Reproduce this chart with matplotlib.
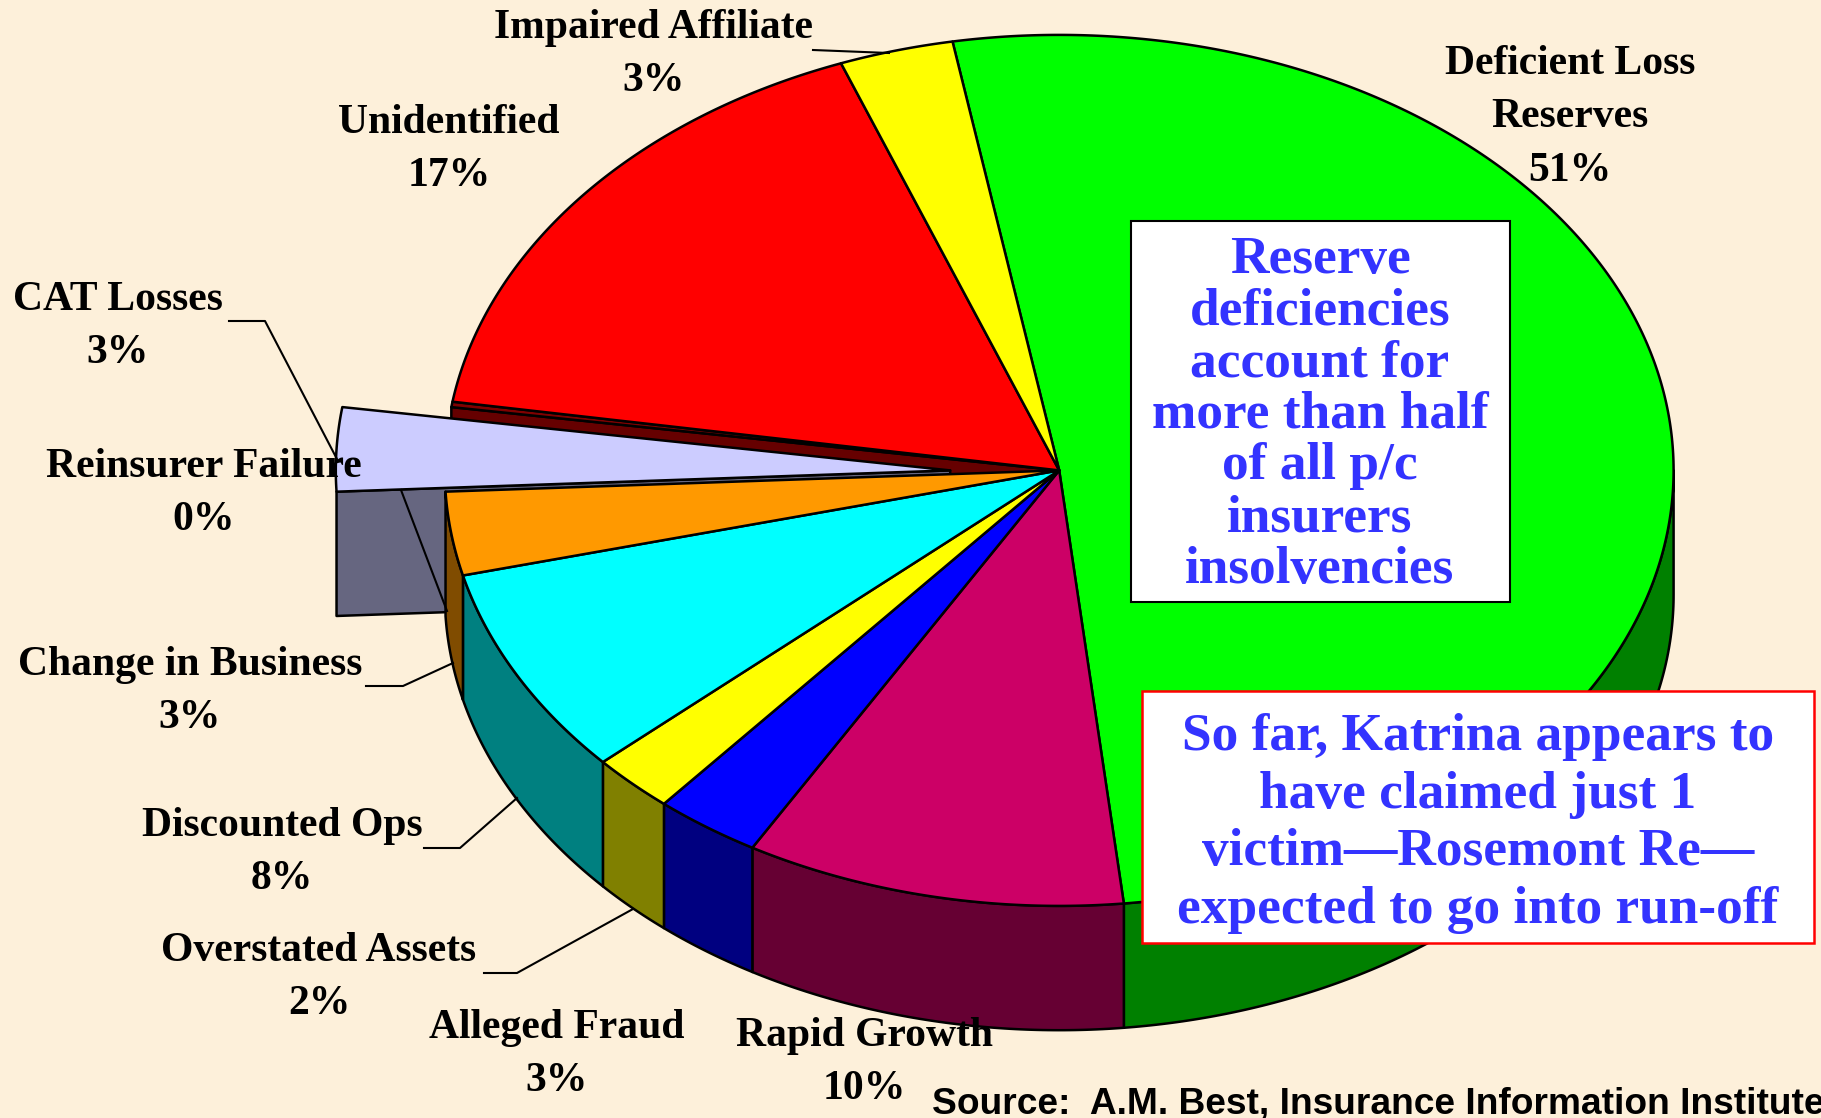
import numpy as np
import matplotlib
matplotlib.use("Agg")
import matplotlib.pyplot as plt
from matplotlib.patches import Polygon, Rectangle

# clockwise from the green slice
categories = ["Deficient Loss\nReserves", "Rapid Growth", "Alleged Fraud", "Overstated Assets",
              "Discounted Ops", "Change in Business", "CAT Losses", "Reinsurer Failure",
              "Unidentified", "Impaired Affiliate"]
values = [51.1, 10.0, 2.8, 2.2, 7.8, 3.1, 3.1, 0.2, 16.7, 3.0]
top_colors = ["#00ff00", "#cc0066", "#0000ff", "#ffff00", "#00ffff", "#ff9900", "#ccccff", "#800000", "#ff0000", "#ffff00"]
side_colors = ["#008000", "#660033", "#000080", "#808000", "#008080", "#804c00", "#666680", "#660000", "#800000", "#808000"]

label_x = [1570, 864, 557, 319, 282, 190, 118, 204, 449, 654]
label_y = [64, 1036, 1028, 951, 826, 665, 300, 467, 123, 28]

box1_lines = ["Reserve", "deficiencies", "account for", "more than half", "of all p/c", "insurers", "insolvencies"]
box2_lines = ["So far, Katrina appears to", "have claimed just 1", "victim\u2014Rosemont Re\u2014", "expected to go into run-off"]
source_text = "Source:  A.M. Best, Insurance Information Institute"

W, H = 1821, 1118
cx, cy = 1059.2, 470.4
rx, ry = 614.4, 435.5
depth = 124.3
explode = 109
start_angle = -10
serif = "Liberation Serif"
lw = 1.8

fig = plt.figure(figsize=(W / 100, H / 100), dpi=100, facecolor="#fdf0da")
ax = fig.add_axes([0, 0, 1, 1])
ax.set_xlim(0, W)
ax.set_ylim(H, 0)
ax.axis("off")


def arc(t0, t1, x0=cx, y0=cy):
    t = np.radians(np.linspace(t0, t1, max(int(abs(t1 - t0)) * 2, 2)))
    return np.column_stack([x0 + rx * np.sin(t), y0 - ry * np.cos(t)])


def poly(pts, color, z):
    ax.add_patch(Polygon(pts, closed=True, facecolor=color, edgecolor="black", lw=lw, joinstyle="round", zorder=z))


angles = start_angle + np.concatenate([[0], np.cumsum(values)]) * 3.6
drop = np.array([0, depth])

# walls exposed by the pulled-out slice
t_cat0, t_cat1 = angles[6], angles[7]
t_re0, t_re1 = angles[7], angles[8]
out_re = arc(t_re0, t_re0)[0]
poly([(cx, cy), out_re, out_re + drop, (cx, cy + depth)], side_colors[7], 1)

# pulled-out slice, side then top
tip = np.array([cx - explode, cy])
out_cat = arc(t_cat0, t_cat0, tip[0])[0]
poly([tip, out_cat, out_cat + drop, tip + drop], side_colors[6], 2)

# outer wall of the front slices
for i in range(len(values)):
    t0, t1 = angles[i], angles[i + 1]
    if i == 6 or t1 <= 90 or t0 >= 270:
        continue
    rim = arc(max(t0, 90), min(t1, 270))
    poly(np.vstack([rim, (rim + drop)[::-1]]), side_colors[i], 3)

# top faces
for i in range(len(values)):
    if i == 6:
        continue
    poly(np.vstack([(cx, cy), arc(angles[i], angles[i + 1])]), top_colors[i], 4)
poly(np.vstack([tip, arc(t_cat0, t_cat1, tip[0])]), top_colors[6], 4.5)

# leader lines
leaders = [
    [(229, 321), (265, 321), (338, 461)],
    [(401, 490), (447, 611)],
    [(366, 686), (403, 686), (453, 663)],
    [(424, 848), (460, 848), (517, 798)],
    [(484, 973), (517, 973), (633, 909)],
    [(813, 50), (889, 53)],
]
for pts in leaders:
    xy = np.array(pts)
    ax.plot(xy[:, 0], xy[:, 1], color="black", lw=1.5, zorder=5)

# slice labels
for name, v, x, y in zip(categories, values, label_x, label_y):
    lines = name.split("\n") + [f"{v:.0f}%"]
    for j, line in enumerate(lines):
        ax.text(x, y + j * 53.4, line, family=serif, weight="bold", fontsize=30,
                ha="center", va="center", color="black", zorder=6)

# call-out boxes
ax.add_patch(Rectangle((1131, 221), 379, 381, facecolor="white", edgecolor="black", lw=1.5, zorder=7))
for j, line in enumerate(box1_lines):
    ax.text(1320, 260 + j * 51.6, line, family=serif, weight="bold", fontsize=38.4,
            ha="center", va="center", color="#3333ff", zorder=8)

ax.add_patch(Rectangle((1142, 691), 672, 252, facecolor="white", edgecolor="#ff0000", lw=1.8, zorder=7))
for j, line in enumerate(box2_lines):
    ax.text(1478, 737 + j * 57.6, line, family=serif, weight="bold", fontsize=38.4,
            ha="center", va="center", color="#3333ff", zorder=8)

ax.text(932, 1104, source_text, family="Liberation Sans", weight="bold", fontsize=26.7,
        ha="left", va="center", color="black", zorder=9)

fig.savefig("out.png", dpi=100, facecolor=fig.get_facecolor())
